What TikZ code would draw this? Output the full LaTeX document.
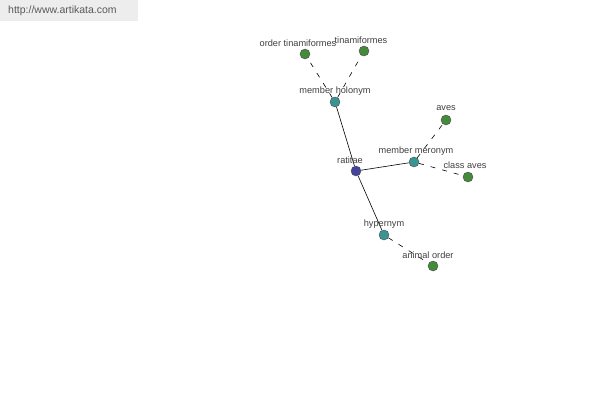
\documentclass[tikz,border=0pt]{standalone}
\usepackage{fontspec}
\setmainfont{Liberation Sans}
\definecolor{hubc}{RGB}{68,68,160}
\definecolor{midc}{RGB}{58,148,148}
\definecolor{leafc}{RGB}{68,138,60}
\begin{document}
\begin{tikzpicture}[x=1pt,y=-1pt,
  dot/.style={circle,draw=black!70,line width=0.4pt,minimum size=10pt,inner sep=0pt},
  hub/.style={dot,fill=hubc},
  mid/.style={dot,fill=midc},
  leaf/.style={dot,fill=leafc},
  lbl/.style={font=\fontsize{9.2}{10}\selectfont,text=black!75,inner sep=0pt},
  solidedge/.style={draw=black,line width=0.6pt},
  dashedge/.style={draw=black,line width=0.6pt,dash pattern=on 5pt off 7pt}]
\useasboundingbox (0,0) rectangle (600,400);
\fill[white] (0,0) rectangle (600,400);
\fill[black!7] (0,0) rectangle (138,21);
\node[anchor=west,font=\fontsize{10.5}{12}\selectfont,text=black!65,inner sep=0pt] (url) at (8,11) {http://www.artikata.com};
% nodes
\node[hub] (rat) at (356,171) {};
\node[mid] (mh) at (335,102) {};
\node[leaf] (ot) at (305,54) {};
\node[leaf] (tin) at (364,51) {};
\node[mid] (mm) at (414,162) {};
\node[leaf] (aves) at (446,120) {};
\node[leaf] (ca) at (468,177) {};
\node[mid] (hyp) at (384,235) {};
\node[leaf] (ao) at (433,266) {};
% edges
\path[solidedge] (rat) -- (mh);
\path[solidedge] (rat) -- (mm);
\path[solidedge] (rat) -- (hyp);
\path[dashedge] (mh) -- (ot);
\path[dashedge] (mh) -- (tin);
\path[dashedge] (mm) -- (aves);
\path[dashedge] (mm) -- (ca);
\path[dashedge] (hyp) -- (ao);
% labels
\node[lbl] (lrat) at (350,160) {ratitae};
\node[lbl] (lmh) at (335,91) {member holonym};
\node[lbl] (lot) at (298,43) {order tinamiformes};
\node[lbl] (ltin) at (361,40) {tinamiformes};
\node[lbl] (lmm) at (416,151) {member meronym};
\node[lbl] (laves) at (446,108) {aves};
\node[lbl] (lca) at (465,165) {class aves};
\node[lbl] (lhyp) at (384,224) {hypernym};
\node[lbl] (lao) at (428,255) {animal order};
\end{tikzpicture}
\end{document}
